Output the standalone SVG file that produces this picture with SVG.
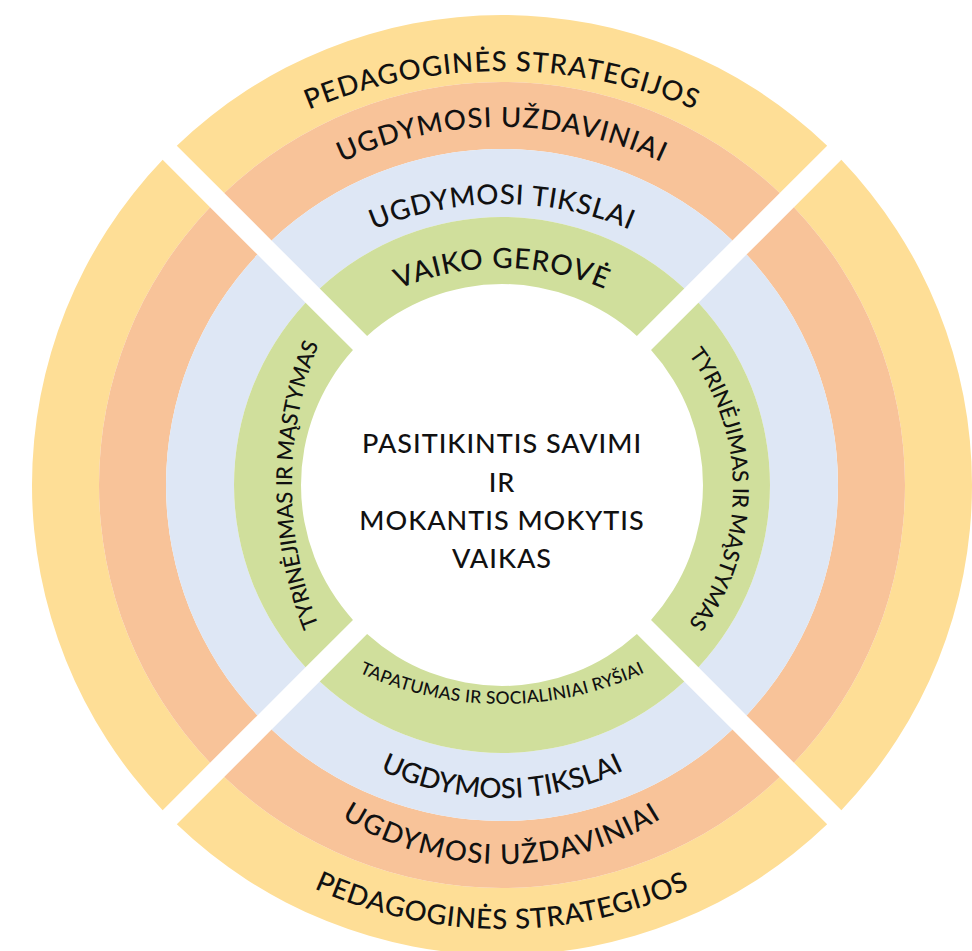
<svg xmlns="http://www.w3.org/2000/svg" width="972" height="951" viewBox="0 0 972 951">
<style>
.y{fill:#FEDE96}.o{fill:#F8C399}.b{fill:#DEE7F5}.g{fill:#D0DF9C}
text{font-family:Lato,"Open Sans","Liberation Sans",sans-serif;fill:#111;font-weight:500}
.t{font-size:27.5px}
.s{font-size:22px;letter-spacing:-0.2px}
.c{font-size:27px;letter-spacing:1px}
</style>
<defs>
<path id="pT1" d="M252 138 A500 500 0 0 1 752 138"/>
<path id="pT2" d="M284 195.7 A380 380 0 0 1 720 195.7"/>
<path id="pT3" d="M312.7 263.7 A330 330 0 0 1 691.3 263.7"/>
<path id="pT4" d="M351.7 315.4 A262 262 0 0 1 652.3 315.4"/>
<path id="pB1" d="M307 642.5 A340 340 0 0 0 697 642.5"/>
<path id="pB2" d="M341.4 747.4 A280 280 0 0 0 662.6 747.4"/>
<path id="pB3" d="M329.9 809.8 A300 300 0 0 0 674.1 809.8"/>
<path id="pB4" d="M274 867.9 A456 456 0 0 0 730 867.9"/>
<path id="pL" d="M348.2 685 A384 384 0 0 1 348.2 285"/>
<path id="pR" d="M652.3 315.9 A226 226 0 0 1 652.3 662.1"/>
</defs>
<g id="strategijos-top"><path class="y" d="M176.81 145.66 A470 470 0 0 1 827.19 145.66 L779.81 193.05 A403 403 0 0 0 224.19 193.05Z"/><text class="t" style="letter-spacing:1px"><textPath href="#pT1" startOffset="50%" text-anchor="middle">PEDAGOGINĖS STRATEGIJOS</textPath></text></g>
<g id="strategijos-right"><path class="y" d="M841.34 159.81 A470 470 0 0 1 841.34 810.19 L793.95 762.81 A403 403 0 0 0 793.95 207.19Z"/></g>
<g id="strategijos-bottom"><path class="y" d="M827.19 824.34 A470 470 0 0 1 176.81 824.34 L224.19 776.95 A403 403 0 0 0 779.81 776.95Z"/><text class="t" style="letter-spacing:0.6px"><textPath href="#pB4" startOffset="50%" text-anchor="middle">PEDAGOGINĖS STRATEGIJOS</textPath></text></g>
<g id="strategijos-left"><path class="y" d="M162.66 810.19 A470 470 0 0 1 162.66 159.81 L210.05 207.19 A403 403 0 0 0 210.05 762.81Z"/></g>
<g id="uzdaviniai-top"><path class="o" d="M224.19 193.05 A403 403 0 0 1 779.81 193.05 L732.41 240.45 A336 336 0 0 0 271.59 240.45Z"/><text class="t" style="letter-spacing:1px"><textPath href="#pT2" startOffset="50%" text-anchor="middle">UGDYMOSI UŽDAVINIAI</textPath></text></g>
<g id="uzdaviniai-right"><path class="o" d="M793.95 207.19 A403 403 0 0 1 793.95 762.81 L746.55 715.41 A336 336 0 0 0 746.55 254.59Z"/></g>
<g id="uzdaviniai-bottom"><path class="o" d="M779.81 776.95 A403 403 0 0 1 224.19 776.95 L271.59 729.55 A336 336 0 0 0 732.41 729.55Z"/><text class="t" style="letter-spacing:1.4px"><textPath href="#pB3" startOffset="50%" text-anchor="middle">UGDYMOSI UŽDAVINIAI</textPath></text></g>
<g id="uzdaviniai-left"><path class="o" d="M210.05 762.81 A403 403 0 0 1 210.05 207.19 L257.45 254.59 A336 336 0 0 0 257.45 715.41Z"/></g>
<g id="tikslai-top"><path class="b" d="M271.59 240.45 A336 336 0 0 1 732.41 240.45 L684.30 288.56 A268 268 0 0 0 319.70 288.56Z"/><text class="t" style="letter-spacing:0.7px"><textPath href="#pT3" startOffset="50%" text-anchor="middle">UGDYMOSI TIKSLAI</textPath></text></g>
<g id="tikslai-right"><path class="b" d="M746.55 254.59 A336 336 0 0 1 746.55 715.41 L698.44 667.30 A268 268 0 0 0 698.44 302.70Z"/></g>
<g id="tikslai-bottom"><path class="b" d="M732.41 729.55 A336 336 0 0 1 271.59 729.55 L319.70 681.44 A268 268 0 0 0 684.30 681.44Z"/><text class="t" style="letter-spacing:0px"><textPath href="#pB2" startOffset="50%" text-anchor="middle">UGDYMOSI TIKSLAI</textPath></text></g>
<g id="tikslai-left"><path class="b" d="M257.45 715.41 A336 336 0 0 1 257.45 254.59 L305.56 302.70 A268 268 0 0 0 305.56 667.30Z"/></g>
<g id="vaiko-gerove"><path class="g" d="M319.70 288.56 A268 268 0 0 1 684.30 288.56 L636.88 335.98 A201 201 0 0 0 367.12 335.98Z"/><text class="t" style="font-size:28px;letter-spacing:0.8px"><textPath href="#pT4" startOffset="50%" text-anchor="middle">VAIKO GEROVĖ</textPath></text></g>
<g id="tyrinejimas-right"><path class="g" d="M698.44 302.70 A268 268 0 0 1 698.44 667.30 L651.02 619.88 A201 201 0 0 0 651.02 350.12Z"/><text class="s"><textPath href="#pR" startOffset="50%" text-anchor="middle">TYRINĖJIMAS IR MĄSTYMAS</textPath></text></g>
<g id="tapatumas"><path class="g" d="M684.30 681.44 A268 268 0 0 1 319.70 681.44 L367.12 634.02 A201 201 0 0 0 636.88 634.02Z"/><text style="font-size:17.5px;letter-spacing:0.3px"><textPath href="#pB1" startOffset="50%" text-anchor="middle">TAPATUMAS IR SOCIALINIAI RYŠIAI</textPath></text></g>
<g id="tyrinejimas-left"><path class="g" d="M305.56 667.30 A268 268 0 0 1 305.56 302.70 L352.98 350.12 A201 201 0 0 0 352.98 619.88Z"/><text class="s"><textPath href="#pL" startOffset="50%" text-anchor="middle">TYRINĖJIMAS IR MĄSTYMAS</textPath></text></g>
<g id="center"><text class="c" text-anchor="middle"><tspan x="502" y="453">PASITIKINTIS SAVIMI</tspan><tspan x="502" y="491.5">IR</tspan><tspan x="502" y="530">MOKANTIS MOKYTIS</tspan><tspan x="502" y="568">VAIKAS</tspan></text></g>
<g id="connectors"/>
</svg>
